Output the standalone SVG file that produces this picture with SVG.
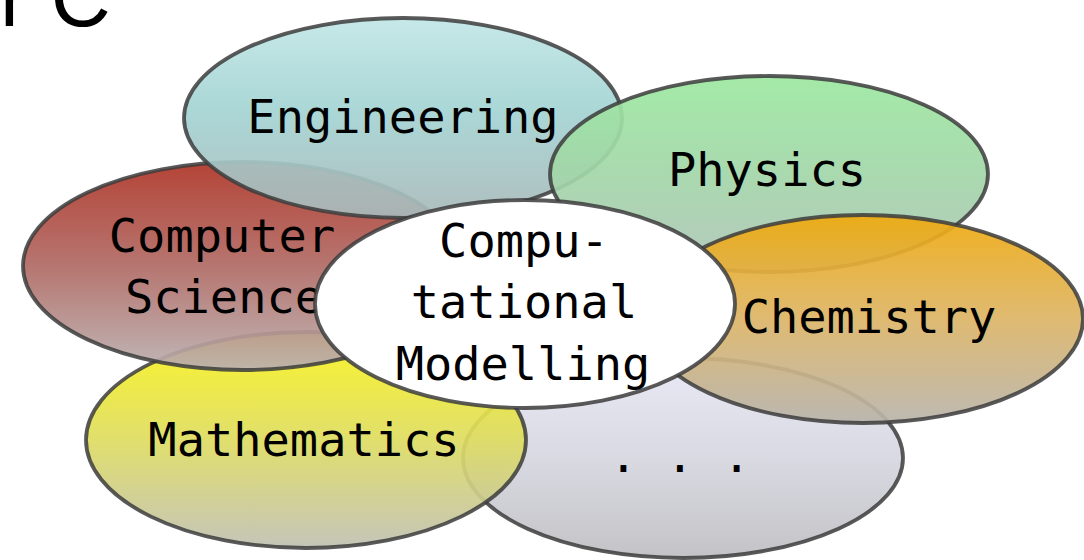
<svg xmlns="http://www.w3.org/2000/svg" width="1084" height="560" viewBox="0 0 1084 560">
  <style>
    .bub { stroke: #3c3c3c; stroke-width: 3.8; stroke-opacity: 0.85; fill-opacity: 0.92; }
    .solid { fill-opacity: 1; }
    .lbl { font-family: "DejaVu Sans Mono", "Liberation Mono", monospace; font-size: 47px; fill: #000; text-anchor: middle; }
    .title { font-family: "Liberation Sans", Arial, sans-serif; font-size: 83px; font-weight: 300; fill: #000; }
  </style>
  <defs>
    <linearGradient id="gEng" x1="0" y1="0" x2="0" y2="1">
      <stop offset="0" stop-color="#c2e6e6"/>
      <stop offset="0.45" stop-color="#a4d4d4"/>
      <stop offset="1" stop-color="#a9b9b9"/>
    </linearGradient>
    <linearGradient id="gPhy" x1="0" y1="0" x2="0" y2="1">
      <stop offset="0" stop-color="#9ce8a0"/>
      <stop offset="0.5" stop-color="#a2d6a8"/>
      <stop offset="1" stop-color="#b0c4b8"/>
    </linearGradient>
    <linearGradient id="gCS" x1="0" y1="0" x2="0" y2="1">
      <stop offset="0" stop-color="#ae3426"/>
      <stop offset="0.5" stop-color="#b06a64"/>
      <stop offset="1" stop-color="#bab0b0"/>
    </linearGradient>
    <linearGradient id="gChem" x1="0" y1="0" x2="0" y2="1">
      <stop offset="0" stop-color="#efa90c"/>
      <stop offset="0.5" stop-color="#dcb466"/>
      <stop offset="1" stop-color="#b8b4ac"/>
    </linearGradient>
    <linearGradient id="gMath" x1="0" y1="0" x2="0" y2="1">
      <stop offset="0" stop-color="#faf418"/>
      <stop offset="0.5" stop-color="#dedc60"/>
      <stop offset="1" stop-color="#c0c0b4"/>
    </linearGradient>
    <linearGradient id="gEtc" x1="0" y1="0" x2="0" y2="1">
      <stop offset="0" stop-color="#e8e8f6"/>
      <stop offset="0.5" stop-color="#d6d6e0"/>
      <stop offset="1" stop-color="#bebec2"/>
    </linearGradient>
  </defs>

  <text class="title" x="0" y="26">r C</text>

  <g id="node-etc">
    <ellipse class="bub" cx="683" cy="458" rx="220" ry="100" fill="url(#gEtc)"/>
    <text class="lbl" x="680" y="472">. . .</text>
  </g>
  <g id="node-math">
    <ellipse class="bub" cx="306" cy="440" rx="220" ry="108" fill="url(#gMath)"/>
    <text class="lbl" x="304" y="456">Mathematics</text>
  </g>
  <g id="node-cs">
    <ellipse class="bub" cx="243" cy="266" rx="220" ry="104" fill="url(#gCS)"/>
    <text class="lbl" x="222" y="252">Computer</text>
    <text class="lbl" x="224" y="313">Science</text>
  </g>
  <g id="node-eng">
    <ellipse class="bub" cx="403" cy="118" rx="219" ry="100" fill="url(#gEng)"/>
    <text class="lbl" x="403" y="133">Engineering</text>
  </g>
  <g id="node-phys">
    <ellipse class="bub" cx="769" cy="174" rx="219" ry="98" fill="url(#gPhy)"/>
    <text class="lbl" x="767" y="186">Physics</text>
  </g>
  <g id="node-chem">
    <ellipse class="bub" cx="863" cy="319" rx="220" ry="104" fill="url(#gChem)"/>
    <text class="lbl" x="869" y="333">Chemistry</text>
  </g>
  <g id="node-center">
    <ellipse class="bub solid" cx="525" cy="304" rx="210" ry="104" fill="#ffffff"/>
    <text class="lbl" x="524" y="257">Compu-</text>
    <text class="lbl" x="524" y="318">tational</text>
    <text class="lbl" x="523" y="380">Modelling</text>
  </g>
  <g id="connectors"/>
</svg>
